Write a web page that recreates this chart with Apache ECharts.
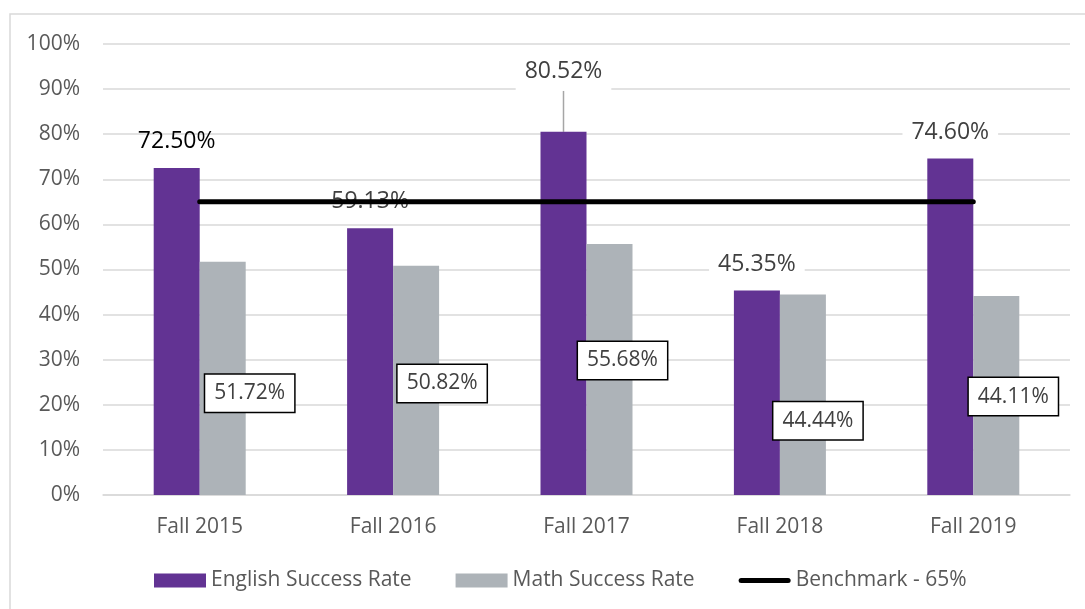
<!DOCTYPE html>
<html>
<head>
<meta charset="utf-8">
<script src="https://cdn.jsdelivr.net/npm/echarts@6/dist/echarts.min.js"></script>
<style>html,body{margin:0;padding:0;background:#fff;}#c{width:1085px;height:609px;}</style>
</head>
<body>
<div id="c"></div>
<script>
var categories = ['Fall 2015', 'Fall 2016', 'Fall 2017', 'Fall 2018', 'Fall 2019'];
var englishRate = [72.50, 59.13, 80.52, 45.35, 74.60];
var mathRate = [51.72, 50.82, 55.68, 44.44, 44.11];
var benchmark = [65, 65, 65, 65, 65];
var yTicks = [0, 10, 20, 30, 40, 50, 60, 70, 80, 90, 100];

// label placement of the boxed math labels (layout only)
var mathLabelOffsets = [[27, 15], [26, 3], [13, -9], [15, 26], [17, 1]];

var FONT = 'Open Sans';
var chart = echarts.init(document.getElementById('c'));

var englishData = englishRate.map(function (v, i) {
  var d = { value: v };
  if (i === 0) d.label = { color: '#000000', backgroundColor: 'transparent' };
  if (i === 2) d.labelLine = { show: true, lineStyle: { color: '#a6a6a6', width: 1.5 } };
  return d;
});
var mathData = mathRate.map(function (v, i) {
  return { value: v, label: { offset: mathLabelOffsets[i] } };
});

chart.setOption({
  backgroundColor: '#ffffff',
  textStyle: { fontFamily: FONT },
  animation: false,
  graphic: [{
    type: 'rect', z: -10, silent: true,
    shape: { x: 10, y: 14, width: 1100, height: 700 },
    style: { fill: 'none', stroke: '#d9d9d9', lineWidth: 1.5 }
  }],
  grid: { left: 103, right: 15, top: 44, bottom: 114, containLabel: false },
  legend: {
    left: 154, top: 570, padding: 0,
    itemWidth: 52, itemHeight: 14, itemGap: 44,
    symbolKeepAspect: true,
    textStyle: { fontFamily: FONT, fontSize: 21, color: '#595959' },
    data: [
      { name: 'English Success Rate', icon: 'rect' },
      { name: 'Math Success Rate', icon: 'rect' },
      { name: 'Benchmark - 65%',
        icon: 'path://M2.5,0 L49.5,0 A2.5,2.5 0 0 1 49.5,5 L2.5,5 A2.5,2.5 0 0 1 2.5,0 Z',
        itemStyle: { color: '#000000' } }
    ]
  },
  xAxis: {
    type: 'category',
    data: categories,
    axisLine: { show: true, lineStyle: { color: '#d9d9d9', width: 1.5 } },
    axisTick: { show: false },
    axisLabel: { fontFamily: FONT, fontSize: 21, color: '#595959', margin: 22 }
  },
  yAxis: {
    type: 'value',
    min: yTicks[0], max: yTicks[yTicks.length - 1], interval: yTicks[1] - yTicks[0],
    axisLine: { show: false },
    axisTick: { show: false },
    splitLine: { lineStyle: { color: '#d9d9d9', width: 1.5 } },
    axisLabel: { fontFamily: FONT, fontSize: 21, color: '#595959', margin: 23, formatter: '{value}%' }
  },
  series: [
    {
      name: 'English Success Rate',
      type: 'bar',
      barWidth: 46,
      barGap: '0%',
      itemStyle: { color: '#623393' },
      data: englishData,
      label: {
        show: true, position: 'top', distance: 7,
        fontFamily: FONT, fontSize: 23, color: '#404040',
        backgroundColor: '#ffffff', padding: [8, 9],
        formatter: function (p) { return p.value.toFixed(2) + '%'; }
      },
      labelLayout: function (p) { return p.dataIndex === 2 ? { dy: -34 } : {}; }
    },
    {
      name: 'Math Success Rate',
      type: 'bar',
      barWidth: 46,
      barGap: '0%',
      itemStyle: { color: '#adb3b8' },
      data: mathData,
      label: {
        show: true, position: 'inside',
        fontFamily: FONT, fontSize: 21, color: '#404040',
        backgroundColor: '#ffffff', borderColor: '#000000', borderWidth: 1.5,
        padding: [8, 9],
        formatter: function (p) { return p.value.toFixed(2) + '%'; }
      }
    },
    {
      name: 'Benchmark - 65%',
      type: 'line',
      z: 5,
      data: benchmark,
      symbol: 'none',
      lineStyle: { color: '#000000', width: 5, cap: 'round' },
      itemStyle: { color: '#000000' }
    }
  ]
});
</script>
</body>
</html>
